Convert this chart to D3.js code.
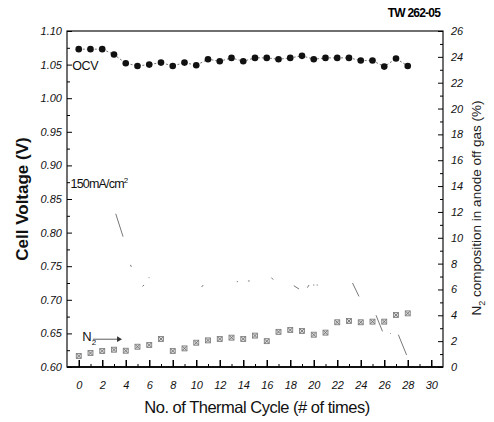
<!DOCTYPE html>
<html>
<head>
<meta charset="utf-8">
<script src="https://cdn.jsdelivr.net/npm/d3@7"></script>
<style>
  body { margin: 0; background: #fff; }
  text { font-family: "Liberation Sans", Arial, sans-serif; }
</style>
</head>
<body>
<div id="chart"></div>
<script>
// thermal cycle number
var cycles = d3.range(0, 29);
// open circuit voltage (V)
var ocv = [1.073, 1.073, 1.073, 1.065, 1.052, 1.048, 1.050, 1.053, 1.048, 1.053,
           1.049, 1.058, 1.055, 1.060, 1.055, 1.060, 1.060, 1.058, 1.060, 1.063,
           1.058, 1.060, 1.060, 1.060, 1.056, 1.056, 1.047, 1.059, 1.048];
// N2 in anode off gas (%)
var n2 = [0.85, 1.08, 1.24, 1.34, 1.26, 1.57, 1.70, 2.17, 1.24, 1.44,
          1.88, 2.06, 2.17, 2.27, 2.17, 2.43, 2.00, 2.72, 2.86, 2.79,
          2.50, 2.66, 3.46, 3.56, 3.46, 3.51, 3.51, 4.02, 4.15];
// what is left of the 150 mA/cm2 line: [cycle1, V1, cycle2, V2]
var loadFragments = [
  [3.15, 0.828, 3.77, 0.794], [4.40, 0.752, 4.48, 0.749],
  [5.42, 0.720, 5.56, 0.722], [5.95, 0.733, 6.02, 0.733],
  [10.45, 0.719, 10.6, 0.722], [13.45, 0.727, 13.55, 0.727],
  [14.4, 0.728, 14.55, 0.728], [16.4, 0.733, 16.55, 0.730],
  [18.3, 0.721, 18.75, 0.716], [19.45, 0.718, 19.6, 0.722],
  [19.95, 0.722, 20.05, 0.722], [20.25, 0.722, 20.35, 0.722],
  [23.3, 0.725, 23.85, 0.705], [25.3, 0.677, 25.85, 0.653],
  [26.5, 0.650, 26.56, 0.650], [27.2, 0.648, 27.9, 0.618]
];
var xTicks = d3.range(0, 31, 2);
var yTicks = d3.range(0.60, 1.101, 0.05);
var rTicks = d3.range(0, 27, 2);

var width = 494, height = 422;
var margins = {top: 31, right: 51, bottom: 55, left: 67};

var svg = d3.select("#chart").append("svg")
    .attr("width", width).attr("height", height);

var x = d3.scaleLinear().domain([-1, 31]).range([margins.left, width - margins.right]);
var y = d3.scaleLinear().domain([0.60, 1.10]).range([height - margins.bottom, margins.top]);
var yr = d3.scaleLinear().domain([0, 26]).range([height - margins.bottom, margins.top]);

var x0 = margins.left, x1 = width - margins.right;
var y0 = height - margins.bottom, y1 = margins.top;

// frame
svg.append("rect")
    .attr("x", x0).attr("y", y1)
    .attr("width", x1 - x0).attr("height", y0 - y1)
    .attr("fill", "none").attr("stroke", "#111").attr("stroke-width", 1.2);
svg.append("line")
    .attr("x1", x0).attr("x2", x1).attr("y1", y0).attr("y2", y0)
    .attr("stroke", "#111").attr("stroke-width", 2);

// bottom axis (inward ticks)
svg.append("g")
    .attr("transform", "translate(0," + y0 + ")")
    .call(d3.axisBottom(x).tickValues(xTicks).tickSize(-7).tickPadding(14).tickFormat(d3.format("d")))
    .call(g => g.select(".domain").remove())
    .call(g => g.selectAll(".tick line").attr("stroke-width", 1.5))
    .call(g => g.selectAll("text").attr("font-size", 11).attr("font-style", "italic").attr("fill", "#111"));
svg.append("g")
    .attr("transform", "translate(0," + y0 + ")")
    .call(d3.axisBottom(x).tickValues(d3.range(1, 31, 2)).tickSize(-3).tickFormat(""))
    .call(g => g.select(".domain").remove());

// left axis
svg.append("g")
    .attr("transform", "translate(" + x0 + ",0)")
    .call(d3.axisLeft(y).tickValues(yTicks).tickSize(-5).tickPadding(5).tickFormat(d3.format(".2f")))
    .call(g => g.select(".domain").remove())
    .call(g => g.selectAll("text").attr("font-size", 11).attr("font-style", "italic").attr("fill", "#111"));
svg.append("g")
    .attr("transform", "translate(" + x0 + ",0)")
    .call(d3.axisLeft(y).tickValues(d3.range(0.625, 1.1, 0.05)).tickSize(-3).tickFormat(""))
    .call(g => g.select(".domain").remove());

// right axis
svg.append("g")
    .attr("transform", "translate(" + x1 + ",0)")
    .call(d3.axisRight(yr).tickValues(rTicks).tickSize(-5).tickPadding(8).tickFormat(d3.format("d")))
    .call(g => g.select(".domain").remove())
    .call(g => g.selectAll("text").attr("font-size", 11).attr("font-style", "italic").attr("fill", "#111"));
svg.append("g")
    .attr("transform", "translate(" + x1 + ",0)")
    .call(d3.axisRight(yr).tickValues(d3.range(1, 26, 2)).tickSize(-3).tickFormat(""))
    .call(g => g.select(".domain").remove());

// axis titles
svg.append("text")
    .attr("x", (x0 + x1) / 2 + 2).attr("y", 413)
    .attr("text-anchor", "middle").attr("font-size", 16.5).attr("fill", "#111")
    .style("letter-spacing", "-0.5px")
    .text("No. of Thermal Cycle (# of times)");
svg.append("text")
    .attr("transform", "translate(28," + ((y0 + y1) / 2) + ") rotate(-90)")
    .attr("text-anchor", "middle").attr("font-size", 17).attr("font-weight", "bold").attr("fill", "#111")
    .text("Cell Voltage (V)");
var rt = svg.append("text")
    .attr("transform", "translate(481," + ((y0 + y1) / 2 + 9) + ") rotate(-90)")
    .attr("text-anchor", "middle").attr("font-size", 13.5).attr("fill", "#222");
rt.append("tspan").text("N");
rt.append("tspan").attr("font-size", 9).attr("dy", 4).text("2");
rt.append("tspan").attr("dy", -4).text(" composition in anode off gas (%)");

svg.append("text")
    .attr("x", 440).attr("y", 17)
    .attr("text-anchor", "end").attr("font-size", 12).attr("font-weight", "bold")
    .style("letter-spacing", "-0.8px")
    .text("TW 262-05");

// 150 mA/cm2 remnants
svg.append("g").selectAll("line")
    .data(loadFragments).enter().append("line")
    .attr("x1", d => x(d[0])).attr("y1", d => y(d[1]))
    .attr("x2", d => x(d[2])).attr("y2", d => y(d[3]))
    .attr("stroke", "#555").attr("stroke-width", 0.8);

// OCV
var ocvData = cycles.map((c, i) => ({c: c, v: ocv[i]}));
svg.append("path")
    .datum(ocvData)
    .attr("fill", "none").attr("stroke", "#333").attr("stroke-width", 0.7)
    .attr("stroke-dasharray", "2,2")
    .attr("d", d3.line().x(d => x(d.c)).y(d => y(d.v)));
svg.append("g").selectAll("circle")
    .data(ocvData).enter().append("circle")
    .attr("cx", d => x(d.c)).attr("cy", d => y(d.v)).attr("r", 3.3)
    .attr("fill", "#111");

// N2 markers
var n2Data = cycles.map((c, i) => ({c: c, v: n2[i]}));
var mk = svg.append("g").selectAll("g")
    .data(n2Data).enter().append("g")
    .attr("transform", d => "translate(" + x(d.c) + "," + yr(d.v) + ")");
mk.append("rect").attr("x", -2.5).attr("y", -2.5).attr("width", 5).attr("height", 5)
    .attr("fill", "#ddd").attr("stroke", "#777").attr("stroke-width", 0.8);
mk.append("path").attr("d", "M-2,-2L2,2M-2,2L2,-2").attr("stroke", "#666").attr("stroke-width", 0.8);

// labels
svg.append("text").attr("x", x(-0.55)).attr("y", y(1.05) + 5)
    .attr("font-size", 12.5).attr("fill", "#111").style("letter-spacing", "-0.4px").text("OCV");
var lt = svg.append("text").attr("x", x(-0.7)).attr("y", y(0.875) + 6)
    .attr("font-size", 12.5).attr("fill", "#111").style("letter-spacing", "-0.8px");
lt.append("tspan").text("150mA/cm");
lt.append("tspan").attr("font-size", 8).attr("dy", -5).text("2");

var nl = svg.append("text").attr("x", x(0.3)).attr("y", yr(2.2) + 2)
    .attr("font-size", 13).attr("fill", "#111").attr("font-family", "Liberation Serif, serif");
nl.append("tspan").text("N");
nl.append("tspan").attr("font-size", 8).attr("dy", 4).text("2");
svg.append("line")
    .attr("x1", x(1.2)).attr("x2", x(3.4)).attr("y1", yr(2.15)).attr("y2", yr(2.15))
    .attr("stroke", "#333").attr("stroke-width", 0.8);
svg.append("path")
    .attr("d", d3.symbol(d3.symbolTriangle, 14)())
    .attr("transform", "translate(" + x(3.4) + "," + yr(2.15) + ") rotate(90)")
    .attr("fill", "#333");
</script>
</body>
</html>
